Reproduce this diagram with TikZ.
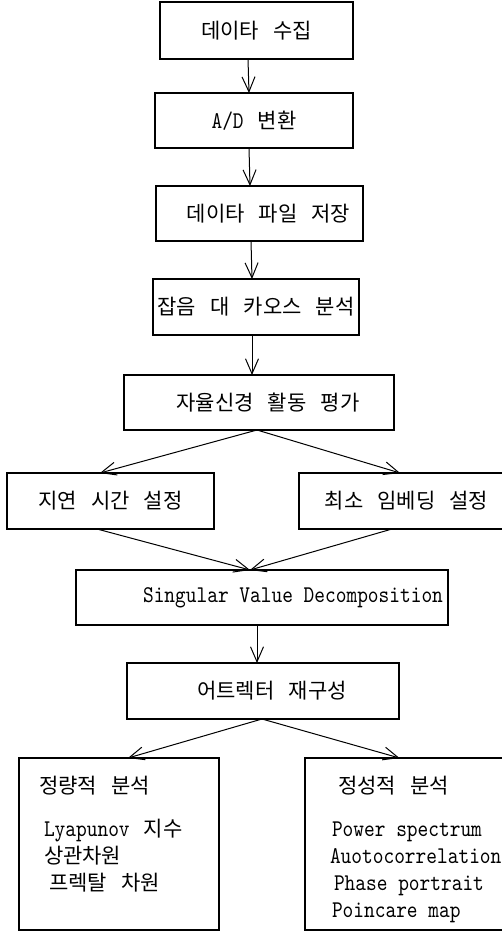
\documentclass[tikz,border=0pt]{standalone}
\usepackage{fontspec}
\setmainfont{Noto Sans CJK KR}[WordSpace=3]
\setmonofont{lmmono10-regular.otf}[Scale=1.143,FakeStretch=0.85]
\usetikzlibrary{arrows.meta}
\newcommand{\eng}[1]{{\ttfamily #1}}

\begin{document}
\begin{tikzpicture}[x=1pt, y=-1pt,
  box/.style={draw, rectangle, inner sep=0pt, outer sep=0pt, line width=1.1pt},
  arr/.style={-{Straight Barb[length=15pt,width=13pt]}, line width=1pt},
  font=\fontsize{21}{27}\selectfont]
\useasboundingbox (0,0) rectangle (501,931);

% processing chain
\node[box, minimum width=193, minimum height=57] (collect) at (256.5,30.5) {데이타 수집};
\node[box, minimum width=198, minimum height=55] (adconv) at (254,120.5) {\eng{A/D} 변환};
\node[box, minimum width=207, minimum height=55] (store) at (259.5,213.5) {\hspace*{18pt}데이타 파일 저장};
\node[box, minimum width=206, minimum height=56] (noise) at (256,307) {잡음 대 카오스 분석};
\node[box, minimum width=270, minimum height=55] (ans) at (259,402.5) {\hspace*{18pt}자율신경 활동 평가};

% embedding parameters
\node[box, minimum width=207, minimum height=56] (delay) at (110.5,501) {지연 시간 설정};
\node[box, minimum width=215, minimum height=56] (embed) at (406.5,501) {최소 임베딩 설정};

\node[box, minimum width=372, minimum height=55] (svd) at (262,597.5)
  {\hspace*{62pt}\eng{Singular Value Decomposition}};
\node[box, minimum width=272, minimum height=56] (attr) at (263,691) {\hspace*{18pt}어트렉터 재구성};

% analysis
\node[box, minimum width=200, minimum height=172] (quant) at (119,844)
  {\parbox[c][136pt][t]{160pt}{\raggedright
   정량적 분석\\[16pt]
   \hspace*{5pt}\eng{Lyapunov} 지수\\
   \hspace*{5pt}상관차원\\
   \hspace*{10pt}프렉탈 차원}};
\node[box, minimum width=232, minimum height=172] (qual) at (421,844)
  {\parbox[c][136pt][t]{182pt}{\raggedright
   \hspace*{8pt}정성적 분석\\[16pt]
   \hspace*{2pt}\eng{Power spectrum}\\
   \eng{Auotocorrelation}\\
   \hspace*{4pt}\eng{Phase portrait}\\
   \hspace*{2pt}\eng{Poincare map}}};

\draw[arr] ([xshift=-8.5pt]collect.south) -- ([xshift=-5pt]adconv.north);
\draw[arr] ([xshift=-5pt]adconv.south) -- ([xshift=-9.5pt]store.north);
\draw[arr] ([xshift=-8.5pt]store.south) -- ([xshift=-4pt]noise.north);
\draw[arr] ([xshift=-4pt]noise.south) -- ([xshift=-7pt]ans.north);
\draw[arr] ([xshift=-2pt]ans.south) -- ([xshift=-10.5pt]delay.north);
\draw[arr] ([xshift=-2pt]ans.south) -- ([xshift=-6.5pt]embed.north);
\draw[arr] ([xshift=-13.5pt]delay.south) -- ([xshift=-12pt]svd.north);
\draw[arr] ([xshift=-14.5pt]embed.south) -- ([xshift=-12pt]svd.north);
\draw[arr] ([xshift=-5pt]svd.south) -- ([xshift=-6pt]attr.north);
\draw[arr] ([xshift=-1pt]attr.south) -- ([xshift=9pt]quant.north);
\draw[arr] ([xshift=-1pt]attr.south) -- ([xshift=-21.5pt]qual.north);
\end{tikzpicture}
\end{document}
